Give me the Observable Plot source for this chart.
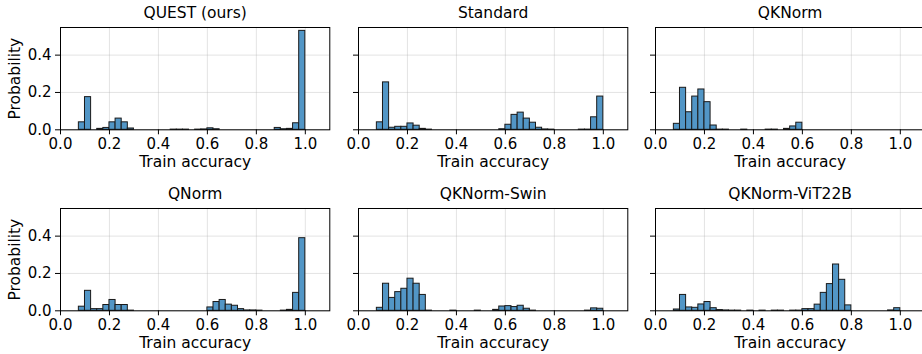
<!DOCTYPE html>
<html>
<head>
<meta charset="utf-8">
<script src="https://cdn.jsdelivr.net/npm/d3@7"></script>
<script src="https://cdn.jsdelivr.net/npm/@observablehq/plot@0.6"></script>
<style>
  html, body { margin: 0; padding: 0; background: #fff; }
  #chart { position: relative; width: 922px; height: 354px; overflow: hidden; background: #fff; }
  #chart > svg { position: absolute; }
</style>
</head>
<body>
<div id="chart"></div>
<script>
// Bin left edges (bin width 0.025)
const binStarts = [0.075,0.1,0.125,0.15,0.175,0.2,0.225,0.25,0.275,0.3,0.325,0.35,0.375,0.4,0.425,0.45,0.475,0.5,0.525,0.55,0.575,0.6,0.625,0.65,0.675,0.7,0.725,0.75,0.775,0.8,0.825,0.85,0.875,0.9,0.925,0.95,0.975];
const binWidth = 0.025;

const titles = ["QUEST (ours)", "Standard", "QKNorm", "QNorm", "QKNorm-Swin", "QKNorm-ViT22B"];

const questVals  = [0.04,0.175,0,0.005,0.01,0.04,0.06,0.04,0.007,0,0,0,0,0,0,0.001,0.001,0.001,0,0.001,0.002,0.008,0.003,0,0,0,0,0,0,0,0,0,0.01,0.003,0.005,0.035,0.53];
const standardVals = [0.04,0.254,0.011,0.016,0.016,0.034,0.022,0.005,0.001,0,0,0,0,0,0,0,0,0,0,0,0.003,0.027,0.08,0.092,0.06,0.038,0.011,0.002,0.001,0,0,0,0,0.001,0.001,0.067,0.178];
const qknormVals = [0.032,0.225,0.094,0.178,0.216,0.148,0.023,0.001,0.001,0,0,0.001,0,0,0,0.001,0.001,0,0.005,0.018,0.038,0,0,0,0,0,0,0,0,0,0,0,0,0,0,0,0];
const qnormVals  = [0.022,0.107,0.009,0.009,0.031,0.058,0.031,0.031,0.001,0,0,0,0,0,0,0,0,0,0,0,0,0.018,0.047,0.058,0.033,0.027,0.009,0.002,0.002,0.001,0,0,0,0.001,0.005,0.096,0.389];
const swinVals   = [0.016,0.145,0.069,0.1,0.118,0.172,0.145,0.085,0.001,0,0,0,0.001,0,0,0,0.001,0,0,0.005,0.023,0.025,0.02,0.027,0.011,0.001,0,0,0,0,0,0,0,0,0.001,0.013,0.011];
const vit22bVals = [0.007,0.085,0.018,0.016,0.034,0.047,0.014,0.004,0.002,0.001,0.001,0,0.001,0,0.001,0,0.001,0.001,0,0.001,0.001,0.009,0.009,0.033,0.096,0.143,0.248,0.166,0.029,0,0,0,0,0,0,0.002,0.014];

const seriesVals = [questVals, standardVals, qknormVals, qnormVals, swinVals, vit22bVals];

const xTicks = [0, 0.2, 0.4, 0.6, 0.8, 1.0];
const yTicks = [0, 0.2, 0.4];
const xLabel = "Train accuracy";
const yLabel = "Probability";

// layout
const frameLefts = [59.7, 357.7, 655];
const frameTops = [26.7, 208.3];
const frameW = 269.3, frameH = 102.3;
const mL = 50, mR = 5, mT = 25, mB = 45;

const chart = document.getElementById("chart");
const fmt = d3.format(".1f");

seriesVals.forEach((vals, i) => {
  const r = Math.floor(i / 3), c = i % 3;
  const data = binStarts.map((b, j) => ({x1: b, x2: b + binWidth, y: vals[j]})).filter(d => d.y > 0);
  const marks = [
    Plot.gridX(xTicks, {stroke: "#b0b0b0", strokeOpacity: 0.35, strokeWidth: 1}),
    Plot.gridY(yTicks, {stroke: "#b0b0b0", strokeOpacity: 0.35, strokeWidth: 1}),
    Plot.rectY(data, {x1: "x1", x2: "x2", y: "y", fill: "#5296c6", stroke: "#1a1a1a", strokeWidth: 1, inset: 0}),
    Plot.frame({stroke: "#000", strokeWidth: 1}),
    Plot.axisX(xTicks, {tickSize: 5, tickPadding: 4, tickFormat: fmt, fontSize: 15, label: null, stroke: "#000"}),
    Plot.axisY(yTicks, {tickSize: 5, tickPadding: 4, tickFormat: c === 0 ? fmt : () => "", fontSize: 15, label: null, stroke: "#000"}),
    Plot.text([titles[i]], {text: d => d, frameAnchor: "top", lineAnchor: "middle", textAnchor: "middle", dy: -14, fontSize: 15.5, fill: "#000"}),
    Plot.text([xLabel], {text: d => d, frameAnchor: "bottom", lineAnchor: "middle", textAnchor: "middle", dy: 32, fontSize: 15.5, fill: "#000"})
  ];
  if (c === 0) {
    marks.push(Plot.text([yLabel], {text: d => d, frameAnchor: "left", rotate: -90, lineAnchor: "middle", textAnchor: "middle", dx: -45, fontSize: 15.5, fill: "#000"}));
  }
  const svg = Plot.plot({
    width: mL + frameW + mR,
    height: mT + frameH + mB,
    marginLeft: mL, marginRight: mR, marginTop: mT, marginBottom: mB,
    style: {fontFamily: "DejaVu Sans", fontSize: "15px", color: "#000", background: "transparent", overflow: "visible"},
    x: {domain: [0, 1.1]},
    y: {domain: [0, 0.548]},
    marks
  });
  svg.style.left = (frameLefts[c] - mL) + "px";
  svg.style.top = (frameTops[r] - mT) + "px";
  chart.appendChild(svg);
});
</script>
</body>
</html>
